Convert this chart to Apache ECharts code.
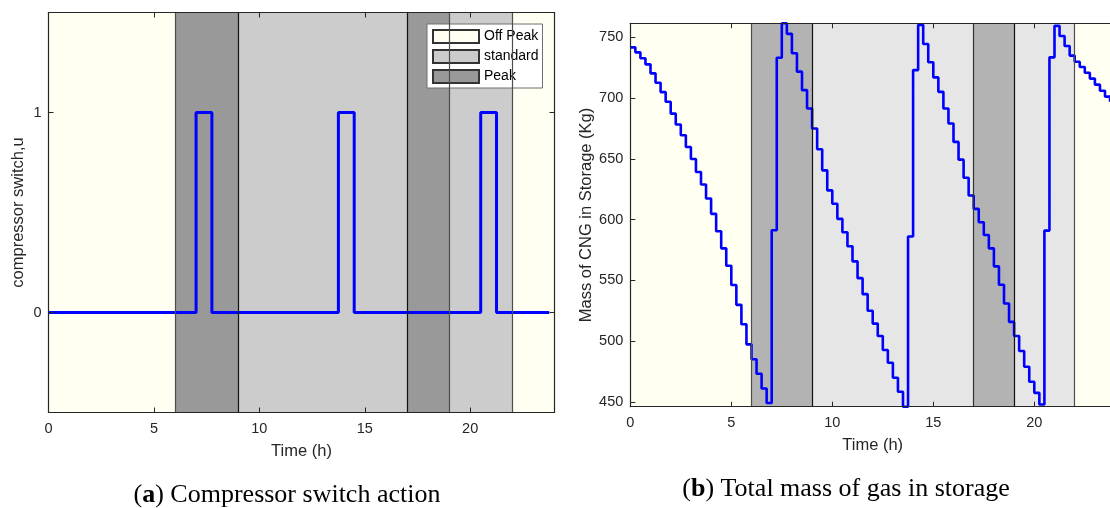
<!DOCTYPE html>
<html>
<head>
<meta charset="utf-8">
<script src="https://cdn.jsdelivr.net/npm/echarts@6/dist/echarts.min.js"></script>
<style>
  html, body { margin: 0; padding: 0; background: #ffffff; }
  #chart { width: 1110px; height: 508px; }
</style>
</head>
<body>
<div id="chart"></div>
<script>
// Sampling step of the simulation (hours); one value per 15 minutes.
const STEP_H = 0.25;

// Compressor on/off command for each 15-minute interval (96 intervals).
const switchState = [
  0,0,0,0,0,0,0,0, 0,0,0,0,0,0,0,0, 0,0,0,0,0,0,0,0,
  0,0,0,0,1,1,1,0, 0,0,0,0,0,0,0,0, 0,0,0,0,0,0,0,0,
  0,0,0,0,0,0,0,1, 1,1,0,0,0,0,0,0, 0,0,0,0,0,0,0,0,
  0,0,0,0,0,0,0,0, 0,0,1,1,1,0,0,0, 0,0,0,0,0,0,0,0
];

// Mass of CNG held in storage (kg) at the start of each interval.
const massKg = [
  741.7, 737.6, 732.7, 727.7, 720.3, 712.6, 704.9, 696.9,
  687.2, 678.2, 669.4, 659.7, 649.8, 639.1, 628.9, 617.3,
  604.7, 590.4, 576.3, 562.0, 546.1, 529.8, 513.9, 497.3,
  485.0, 473.1, 461.0, 449.0, 591.2, 733.2, 761.5, 752.8,
  736.8, 721.7, 706.5, 691.4, 674.9, 657.8, 640.5, 624.0,
  613.0, 600.6, 589.5, 578.0, 565.6, 551.8, 538.6, 524.9,
  514.4, 504.2, 492.7, 482.2, 469.8, 458.3, 446.0, 586.0,
  723.0, 760.2, 744.5, 729.4, 717.0, 705.1, 691.4, 679.0,
  663.9, 649.3, 634.4, 619.8, 608.8, 597.8, 587.3, 576.3,
  561.5, 546.3, 530.9, 515.8, 504.2, 491.8, 478.9, 466.5,
  457.4, 447.8, 590.9, 733.5, 759.4, 751.1, 742.8, 734.9,
  729.9, 725.5, 720.8, 716.0, 711.0, 706.0, 701.2, 697.0
];

// Tariff periods over the day (hours).
const bandStart  = [0, 6, 9, 17, 19, 22];
const bandEnd    = [6, 9, 17, 19, 22, 24];
const bandTariff = ['Off Peak', 'Peak', 'standard', 'Peak', 'standard', 'Off Peak'];
const tariffNames = ['Off Peak', 'standard', 'Peak'];

// Tick values
const timeTicks   = [0, 5, 10, 15, 20];
const switchTicks = [0, 1];
const massTicks   = [450, 500, 550, 600, 650, 700, 750];

// ---- styling ----
const FONT = 'Liberation Sans, Arial, Helvetica, sans-serif';
const SERIF = 'Liberation Serif, Times New Roman, serif';
const AXIS_COLOR = '#262626';
const fillA = { 'Off Peak': '#fffff2', 'standard': '#cccccc', 'Peak': '#999999' };
const fillB = { 'Off Peak': '#fffff2', 'standard': '#e6e6e6', 'Peak': '#b3b3b3' };
const edgeA = ['#4d4d4d', '#111111', '#111111', '#4d4d4d', '#4d4d4d'];
const edgeB = ['#4d4d4d', '#111111', '#333333', '#111111', '#4d4d4d'];

const times = switchState.map((_, i) => i * STEP_H);
const switchPts = times.map((t, i) => [t, switchState[i]]);
const massPts = times.map((t, i) => [t, massKg[i]]);

function xAxisPair(grid) {
  const base = {
    type: 'value', gridIndex: grid, min: 0, max: 24, z: 5,
    splitLine: { show: false },
    axisLine: { show: true, onZero: false, lineStyle: { color: AXIS_COLOR, width: 1.2 } },
    axisTick: { show: true, inside: true, length: 5, customValues: timeTicks,
                lineStyle: { color: AXIS_COLOR } }
  };
  return [
    Object.assign({}, base, {
      position: 'bottom',
      axisLabel: { show: true, customValues: timeTicks, margin: 9,
                   fontFamily: FONT, fontSize: 14.5, color: AXIS_COLOR },
      name: 'Time (h)', nameLocation: 'middle', nameGap: 30,
      nameTextStyle: { fontFamily: FONT, fontSize: 16.5, color: AXIS_COLOR }
    }),
    Object.assign({}, base, { position: 'top', axisLabel: { show: false } })
  ];
}

function yAxisPair(grid, min, max, ticks, name, gap) {
  const base = {
    type: 'value', gridIndex: grid, min: min, max: max, z: 5,
    splitLine: { show: false },
    axisLine: { show: true, onZero: false, lineStyle: { color: AXIS_COLOR, width: 1.2 } },
    axisTick: { show: true, inside: true, length: 5, customValues: ticks,
                lineStyle: { color: AXIS_COLOR } }
  };
  return [
    Object.assign({}, base, {
      position: 'left',
      axisLabel: { show: true, customValues: ticks, margin: 7,
                   fontFamily: FONT, fontSize: 14.5, color: AXIS_COLOR },
      name: name, nameLocation: 'middle', nameGap: gap,
      nameTextStyle: { fontFamily: FONT, fontSize: 16.5, color: AXIS_COLOR }
    }),
    Object.assign({}, base, { position: 'right', axisLabel: { show: false } })
  ];
}

// Shaded tariff bands (one empty series per tariff carries its areas)
function bandSeries(xi, yi, fills) {
  return tariffNames.map(name => ({
    type: 'bar', name: name, xAxisIndex: xi, yAxisIndex: yi, data: [],
    z: 1, silent: true,
    itemStyle: { color: fills[name], borderColor: '#333333', borderWidth: 1 },
    markArea: {
      silent: true,
      itemStyle: { color: fills[name], borderWidth: 0 },
      data: bandStart
        .map((s, i) => ({ s: s, e: bandEnd[i], k: bandTariff[i] }))
        .filter(b => b.k === name)
        .map(b => [{ xAxis: b.s }, { xAxis: b.e }])
    }
  }));
}

function edgeSeries(xi, yi, colors) {
  return {
    type: 'line', name: 'edges', xAxisIndex: xi, yAxisIndex: yi, data: [],
    z: 2, silent: true,
    markLine: {
      silent: true, symbol: ['none', 'none'], label: { show: false },
      animation: false,
      data: bandStart.slice(1).map((x, i) => ({
        xAxis: x, lineStyle: { color: colors[i], width: 1.2, type: 'solid' }
      }))
    }
  };
}

const chart = echarts.init(document.getElementById('chart'), null, { renderer: 'canvas' });

const xa = xAxisPair(0), xb = xAxisPair(1);
const ya = yAxisPair(0, -0.5, 1.5, switchTicks, 'compressor switch,u', 22);
const yb = yAxisPair(1, 446, 761.5, massTicks, 'Mass of CNG in Storage (Kg)', 35);

const captionRich = {
  r: { fontFamily: SERIF, fontSize: 26, fill: '#000000' },
  b: { fontFamily: SERIF, fontSize: 26, fontWeight: 'bold', fill: '#000000' }
};

const option = {
  animation: false,
  backgroundColor: '#ffffff',
  grid: [
    { left: 48.5, top: 12.5, width: 506, height: 400,
      containLabel: false, outerBoundsMode: 'none' },
    { left: 630.3, top: 23.3, width: 484.8, height: 383.4,
      containLabel: false, outerBoundsMode: 'none' }
  ],
  xAxis: [xa[0], xa[1], xb[0], xb[1]],
  yAxis: [ya[0], ya[1], yb[0], yb[1]],
  legend: {
    data: tariffNames,
    orient: 'vertical',
    left: 427, top: 24,
    icon: 'rect',
    itemWidth: 46, itemHeight: 13, itemGap: 5,
    padding: [5, 4, 4, 5],
    backgroundColor: '#ffffff',
    borderColor: '#6e6e6e', borderWidth: 1, borderRadius: 0,
    selectedMode: false,
    textStyle: { fontFamily: FONT, fontSize: 14, color: '#000000' }
  },
  graphic: [
    {
      type: 'text',
      style: {
        x: 287, y: 495, align: 'center', verticalAlign: 'middle',
        text: '{r|(}{b|a}{r|) Compressor switch action}',
        rich: captionRich
      }
    },
    {
      type: 'text',
      style: {
        x: 846, y: 489, align: 'center', verticalAlign: 'middle',
        text: '{r|(}{b|b}{r|) Total mass of gas in storage}',
        rich: captionRich
      }
    }
  ],
  series: [
    ...bandSeries(0, 0, fillA),
    edgeSeries(0, 0, edgeA),
    {
      type: 'line', name: 'u', xAxisIndex: 0, yAxisIndex: 0,
      data: switchPts, step: 'end', showSymbol: false, z: 3,
      lineStyle: { color: '#0000ff', width: 3 }, clip: true
    },
    ...bandSeries(2, 2, fillB),
    edgeSeries(2, 2, edgeB),
    {
      type: 'line', name: 'mass', xAxisIndex: 2, yAxisIndex: 2,
      data: massPts, step: 'end', showSymbol: false, z: 3,
      lineStyle: { color: '#0000ff', width: 2.6 }, clip: true
    }
  ]
};

chart.setOption(option);
</script>
</body>
</html>
